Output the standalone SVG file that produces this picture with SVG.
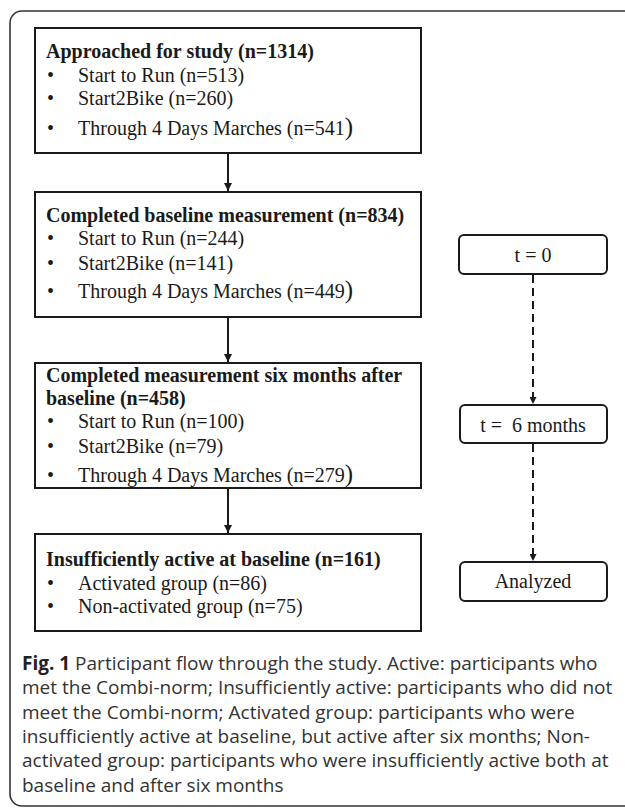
<svg xmlns="http://www.w3.org/2000/svg" width="625" height="810" viewBox="0 0 625 810">
<defs>
<style>
.frame{fill:none;stroke:#333;stroke-width:1.6}
.box{fill:#fff;stroke:#1a1a1a;stroke-width:2}
.rbox{fill:#fff;stroke:#1a1a1a;stroke-width:2}
.t{font-family:"Liberation Serif","Times New Roman",serif;fill:#1a1a1a}
.h{font-size:20px;font-weight:bold}
.b{font-size:20px}
.c{font-family:"Open Sans","Noto Sans",sans-serif;font-size:19px;fill:#333}
.line{stroke:#1a1a1a;stroke-width:2;fill:none}
.dash{stroke:#1a1a1a;stroke-width:2;fill:none;stroke-dasharray:8 5}
</style>
<marker id="ah" viewBox="0 0 10 10" refX="10" refY="5" markerWidth="8" markerHeight="8" markerUnits="userSpaceOnUse" orient="auto">
<path d="M0,0 L10,5 L0,10 z" fill="#1a1a1a"/>
</marker>
<marker id="ah2" viewBox="0 0 10 10" refX="10" refY="5" markerWidth="7" markerHeight="7" markerUnits="userSpaceOnUse" orient="auto">
<path d="M0,0 L10,5 L0,10 z" fill="#1a1a1a"/>
</marker>
</defs>
<rect x="0" y="0" width="625" height="810" fill="#fff"/>
<rect class="frame" x="10" y="11" width="680" height="795" rx="12"/>

<g id="connectors">
<line class="line" x1="228" y1="154" x2="228" y2="191" marker-end="url(#ah)"/>
<line class="line" x1="228" y1="318" x2="228" y2="362" marker-end="url(#ah)"/>
<line class="line" x1="228" y1="489" x2="228" y2="533" marker-end="url(#ah)"/>
<line class="dash" x1="533" y1="275" x2="533" y2="404" marker-end="url(#ah2)"/>
<line class="dash" x1="533" y1="444" x2="533" y2="561" marker-end="url(#ah2)"/>
</g>

<g id="approached">
<rect class="box" x="35" y="28" width="386" height="125"/>
<text class="t h" x="46" y="58">Approached for study (n=1314)</text>
<text class="t b" x="47" y="82">•</text><text class="t b" x="78" y="82">Start to Run (n=513)</text>
<text class="t b" x="47" y="105">•</text><text class="t b" x="78" y="105">Start2Bike (n=260)</text>
<text class="t b" x="47" y="135">•</text><text class="t b" x="78" y="135">Through 4 Days Marches (n=541<tspan font-size="25">)</tspan></text>
</g>

<g id="baseline">
<rect class="box" x="35" y="192" width="386" height="125"/>
<text class="t h" x="46" y="222">Completed baseline measurement (n=834)</text>
<text class="t b" x="47" y="245">•</text><text class="t b" x="78" y="245">Start to Run (n=244)</text>
<text class="t b" x="47" y="270">•</text><text class="t b" x="78" y="270">Start2Bike (n=141)</text>
<text class="t b" x="47" y="298">•</text><text class="t b" x="78" y="298">Through 4 Days Marches (n=449<tspan font-size="25">)</tspan></text>
</g>

<g id="sixmonths">
<rect class="box" x="35" y="363" width="386" height="125"/>
<text class="t h" x="46" y="382">Completed measurement six months after</text>
<text class="t h" x="46" y="405">baseline (n=458)</text>
<text class="t b" x="47" y="428">•</text><text class="t b" x="78" y="428">Start to Run (n=100)</text>
<text class="t b" x="47" y="453">•</text><text class="t b" x="78" y="453">Start2Bike (n=79)</text>
<text class="t b" x="47" y="482">•</text><text class="t b" x="78" y="482">Through 4 Days Marches (n=279<tspan font-size="25">)</tspan></text>
</g>

<g id="insufficient">
<rect class="box" x="35" y="534" width="386" height="97"/>
<text class="t h" x="46" y="566">Insufficiently active at baseline (n=161)</text>
<text class="t b" x="47" y="590">•</text><text class="t b" x="78" y="590">Activated group (n=86)</text>
<text class="t b" x="47" y="613">•</text><text class="t b" x="78" y="613">Non-activated group (n=75)</text>
</g>

<g id="t0">
<rect class="rbox" x="459" y="235" width="148" height="39" rx="5"/>
<text class="t b" x="533" y="262" text-anchor="middle">t = 0</text>
</g>
<g id="t6">
<rect class="rbox" x="460" y="405" width="147" height="38" rx="5"/>
<text class="t b" x="533" y="432" text-anchor="middle" xml:space="preserve">t =  6 months</text>
</g>
<g id="analyzed">
<rect class="rbox" x="460" y="562" width="147" height="39" rx="5"/>
<text class="t b" x="533" y="588" text-anchor="middle">Analyzed</text>
</g>

<g id="caption">
<text class="c" x="22" y="670"><tspan font-weight="bold" fill="#222">Fig. 1</tspan> Participant flow through the study. Active: participants who</text>
<text class="c" x="22" y="694">met the Combi-norm; Insufficiently active: participants who did not</text>
<text class="c" x="22" y="719">meet the Combi-norm; Activated group: participants who were</text>
<text class="c" x="22" y="743">insufficiently active at baseline, but active after six months; Non-</text>
<text class="c" x="22" y="767">activated group: participants who were insufficiently active both at</text>
<text class="c" x="22" y="792">baseline and after six months</text>
</g>
</svg>
